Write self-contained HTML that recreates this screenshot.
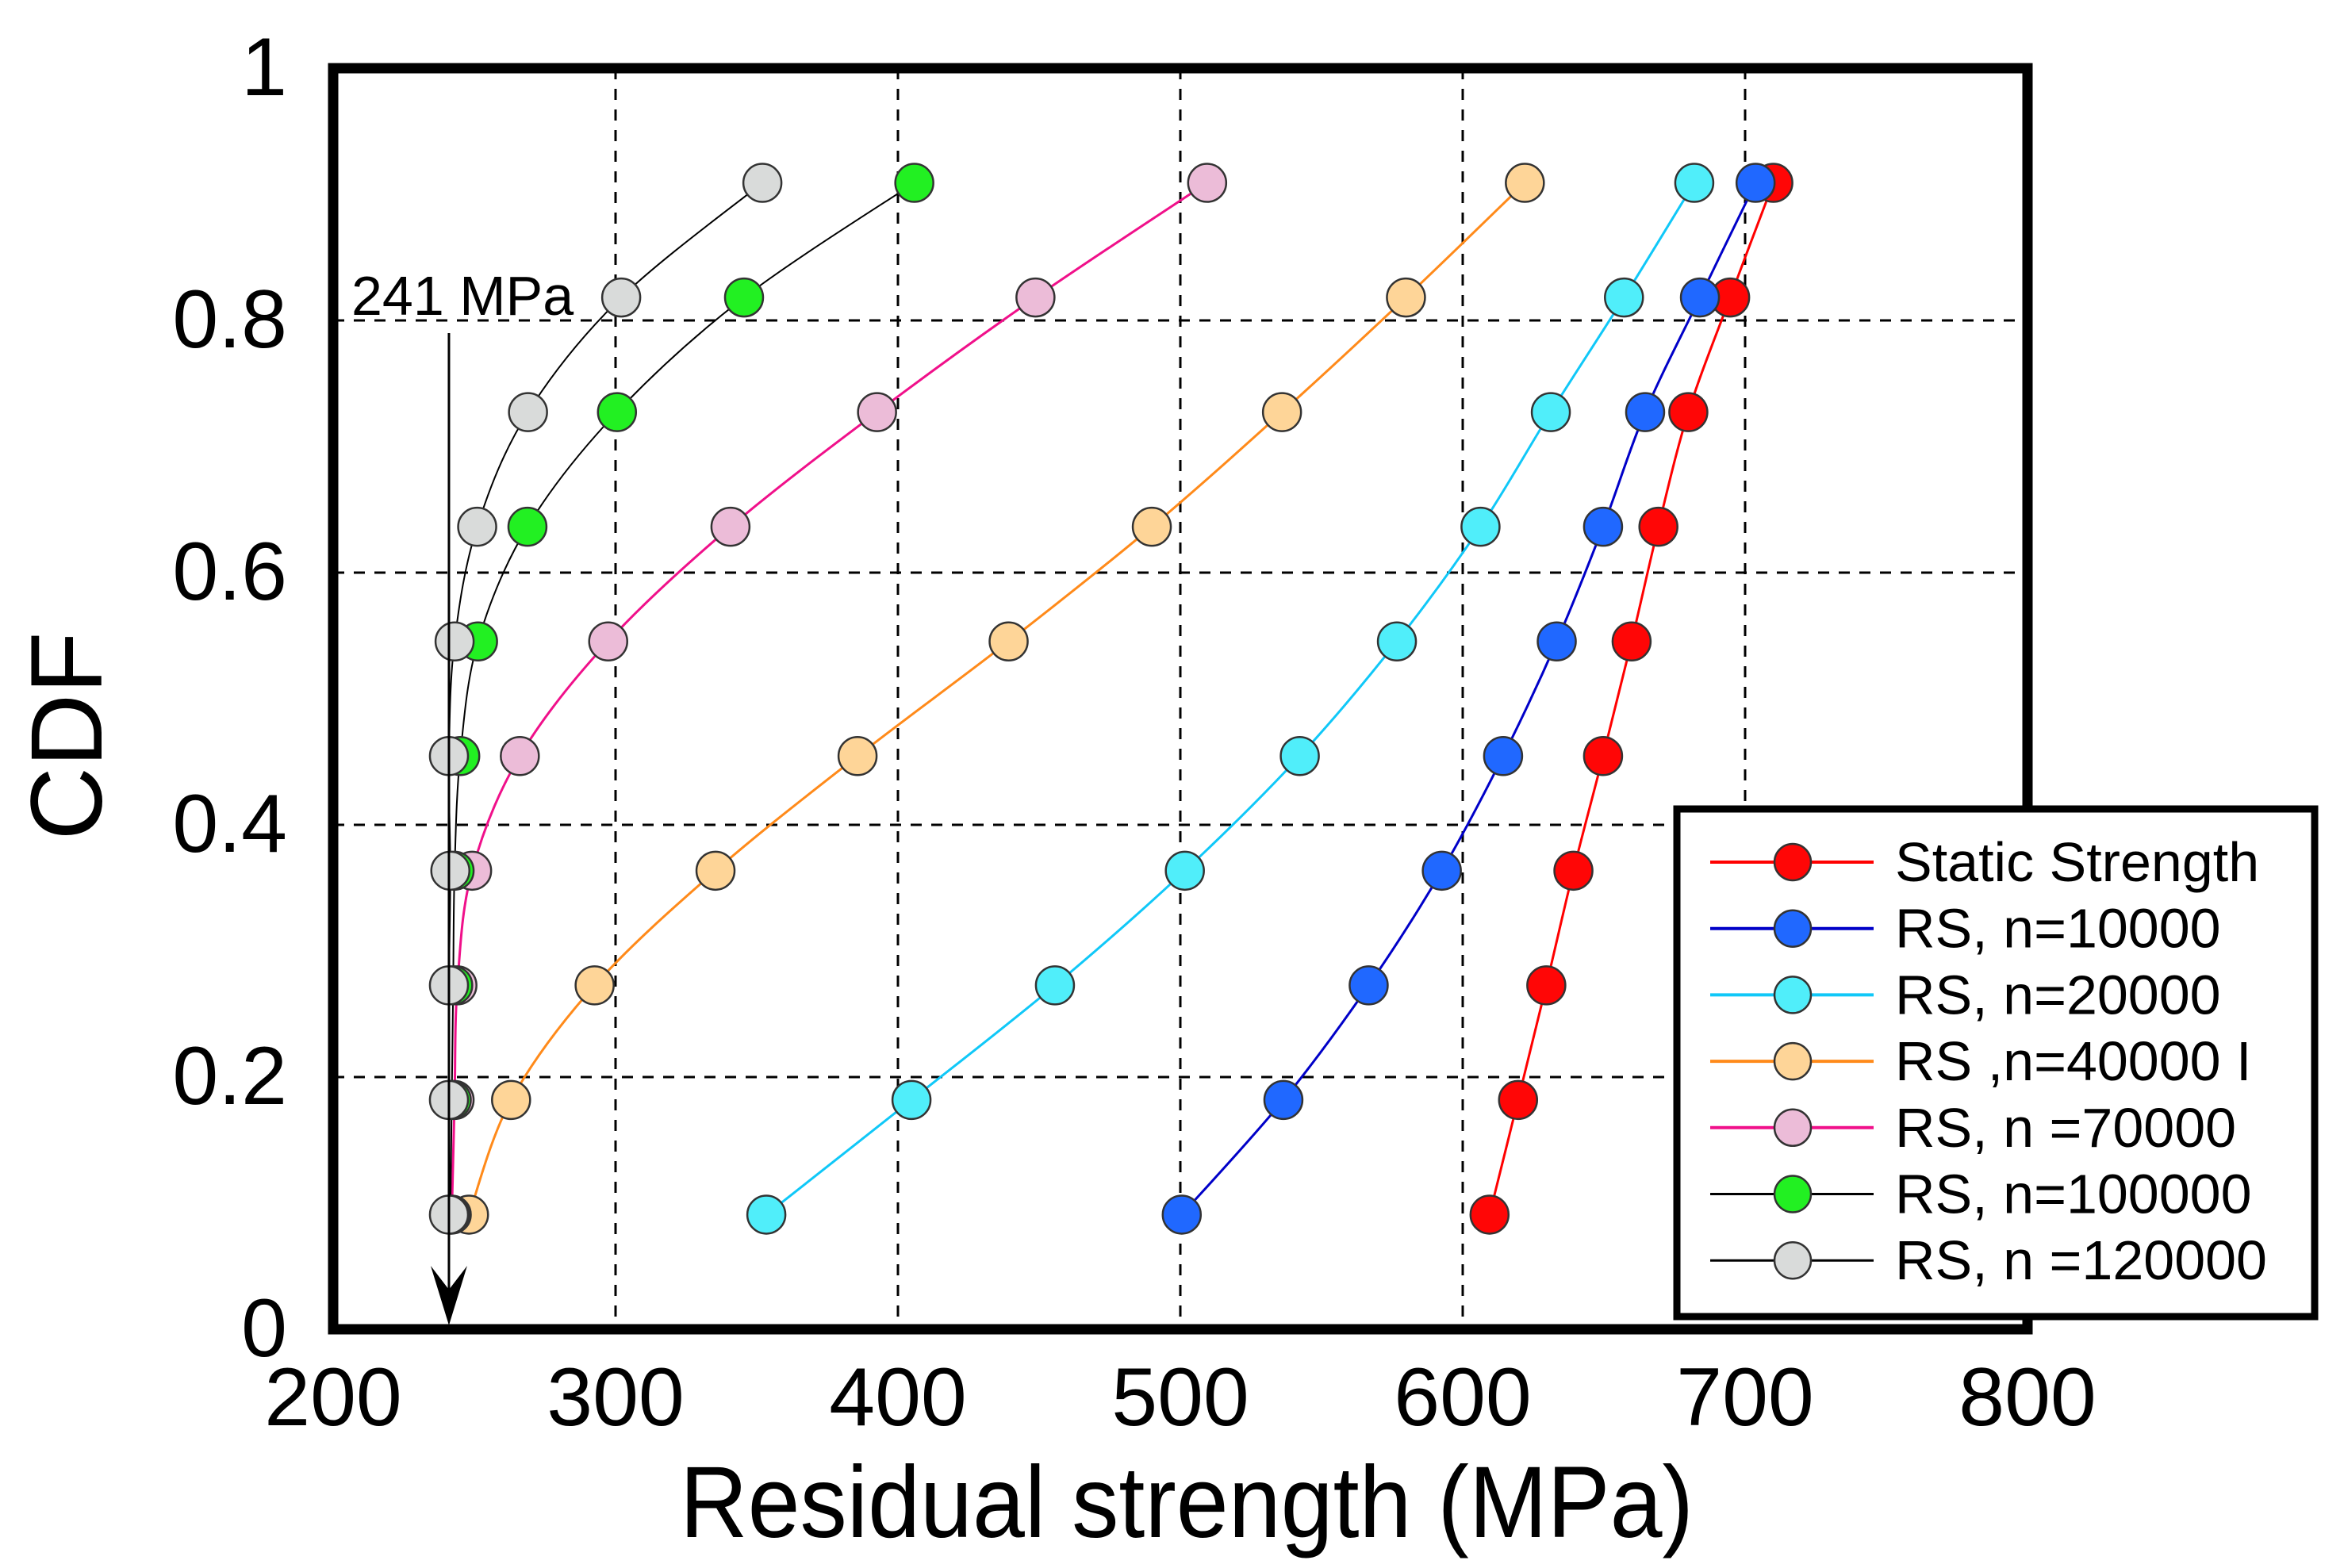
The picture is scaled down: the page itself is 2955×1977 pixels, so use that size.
<!DOCTYPE html>
<html><head><meta charset="utf-8"><style>
html,body{margin:0;padding:0;background:#fff;}
svg{display:block;font-family:"Liberation Sans",Arial,sans-serif;}
</style></head><body>
<svg id="chart" width="2955" height="1977" viewBox="0 0 2955 1977" xmlns="http://www.w3.org/2000/svg">
<rect width="2955" height="1977" fill="#fff"/>
<g id="grid"></g>
<g id="series"></g>
<g id="annot">
<text x="443" y="397" font-size="70">241 MPa</text>
</g>
<rect x="420" y="86" width="2136" height="1590" fill="none" stroke="#000" stroke-width="13"/>
<g id="ticks"></g>
<text x="1496" y="1938" font-size="128" text-anchor="middle" textLength="1278" lengthAdjust="spacingAndGlyphs">Residual strength (MPa)</text>
<text transform="translate(128,928) rotate(-90)" font-size="128" text-anchor="middle">CDF</text>
<g id="legend"></g>
</svg>
<script>
const cdfLevels = [1/11,2/11,3/11,4/11,5/11,6/11,7/11,8/11,9/11,10/11];
const seriesNames = ["Static Strength","RS, n=10000","RS, n=20000","RS ,n=40000 I","RS, n =70000","RS, n=100000","RS, n =120000"];
const staticVals = [609.5,619.6,629.6,639.2,649.7,659.8,669.3,679.9,694.7,710];
const rs10000 = [500.5,536.5,566.7,592.6,614.3,633.3,649.7,664.6,684,703.7];
const rs20000 = [353.4,404.8,455.6,501.6,542.3,576.7,606.3,631.2,657.1,682];
const rs40000 = [248.1,263.0,292.6,335.4,385.7,439.2,489.9,536.0,579.9,622];
const rs70000 = [242,243,244,249.2,266.1,297.4,340.7,392.6,448.7,509.5];
const rs100000 = [241.5,242,242.5,243,245,251.3,268.8,300.5,345.5,405.8];
const rs120000 = [241,241,241,241.5,241,243,251,269,302,352];
const xTicks = [200,300,400,500,600,700,800];
const yTicks = [0,0.2,0.4,0.6,0.8,1];
const yTickLabels = ["0","0.2","0.4","0.6","0.8","1"];
const arrowValue = 241;

const NS="http://www.w3.org/2000/svg";
const X0=420, X1=2556, Y0=1676, Y1=86;
function xs(v){return X0+(v-200)/600*(X1-X0);}
function ys(v){return Y0-v*(Y0-Y1);}
function mk(tag,attrs,parent){const e=document.createElementNS(NS,tag);for(const k in attrs)e.setAttribute(k,attrs[k]);parent.appendChild(e);return e;}

const styles=[
 {line:"#ff0000",fill:"#ff0606",w:3},
 {line:"#0000c8",fill:"#2068ff",w:3},
 {line:"#10c8f8",fill:"#50eefa",w:3},
 {line:"#ff8a1a",fill:"#fed598",w:3},
 {line:"#f0108a",fill:"#ecbcd8",w:3},
 {line:"#000000",fill:"#22f022",w:2},
 {line:"#000000",fill:"#d9dbda",w:2}];
const allSeries=[staticVals,rs10000,rs20000,rs40000,rs70000,rs100000,rs120000];

const grid=document.getElementById('grid');
xTicks.forEach(t=>{if(t>200&&t<800){const l=mk('line',{x1:xs(t),x2:xs(t),y1:Y1,y2:Y0,stroke:"#000","stroke-width":3,"stroke-dasharray":"14 12"},grid);

}});
yTicks.forEach(t=>{if(t>0&&t<1){const l=mk('line',{x1:X0,x2:X1,y1:ys(t),y2:ys(t),stroke:"#000","stroke-width":3,"stroke-dasharray":"14 12"},grid);

}});

function smooth(pts){let d="M"+pts[0][0]+","+pts[0][1];
 for(let i=0;i<pts.length-1;i++){const p0=pts[Math.max(0,i-1)],p1=pts[i],p2=pts[i+1],p3=pts[Math.min(pts.length-1,i+2)];
  const c1=[p1[0]+(p2[0]-p0[0])/6,p1[1]+(p2[1]-p0[1])/6],c2=[p2[0]-(p3[0]-p1[0])/6,p2[1]-(p3[1]-p1[1])/6];
  d+=" C"+c1[0]+","+c1[1]+" "+c2[0]+","+c2[1]+" "+p2[0]+","+p2[1];}
 return d;}

const sg=document.getElementById('series');
allSeries.forEach((vals,si)=>{
 const g=mk('g',{},sg);
 
 
 const pts=vals.map((v,i)=>[xs(v),ys(cdfLevels[i])]);
 const p=mk('path',{d:smooth(pts),fill:"none",stroke:styles[si].line,"stroke-width":styles[si].w},g);
 
 
 pts.forEach(pt=>{const c=mk('circle',{cx:pt[0],cy:pt[1],r:24,fill:styles[si].fill,stroke:"#333","stroke-width":2.5},g);
  
  });
});

const an=document.getElementById('annot');
const ax=xs(arrowValue);
const al=mk('line',{x1:ax,x2:ax,y1:420,y2:Y0-20,stroke:"#000","stroke-width":3},an);


const ah=mk('path',{d:`M${ax-23},${Y0-80} L${ax},${Y0-5} L${ax+23},${Y0-80} L${ax},${Y0-50} Z`,fill:"#000"},an);



const tk=document.getElementById('ticks');
xTicks.forEach(t=>{const e=mk('text',{x:xs(t),y:1797,"font-size":104,"text-anchor":"middle"},tk);e.textContent=t;
 
 });
yTicks.forEach((t,i)=>{const e=mk('text',{x:362,y:ys(t)+34,"font-size":104,"text-anchor":"end"},tk);e.textContent=yTickLabels[i];
 
 });

const lg=document.getElementById('legend');
const box=mk('rect',{x:2114,y:1020,width:804,height:640,fill:"#fff",stroke:"#000","stroke-width":9},lg);


seriesNames.forEach((n,i)=>{const y=1087+i*83.7;
 const g=mk('g',{},lg);
 
 
 mk('line',{x1:2156,x2:2362,y1:y,y2:y,stroke:styles[i].line,"stroke-width":styles[i].w+1},g);
 mk('circle',{cx:2260,cy:y,r:23,fill:styles[i].fill,stroke:"#333","stroke-width":2.5},g);
 const t=mk('text',{x:2389,y:y+24,"font-size":70},g);t.textContent=n;});
</script>
</body></html>
